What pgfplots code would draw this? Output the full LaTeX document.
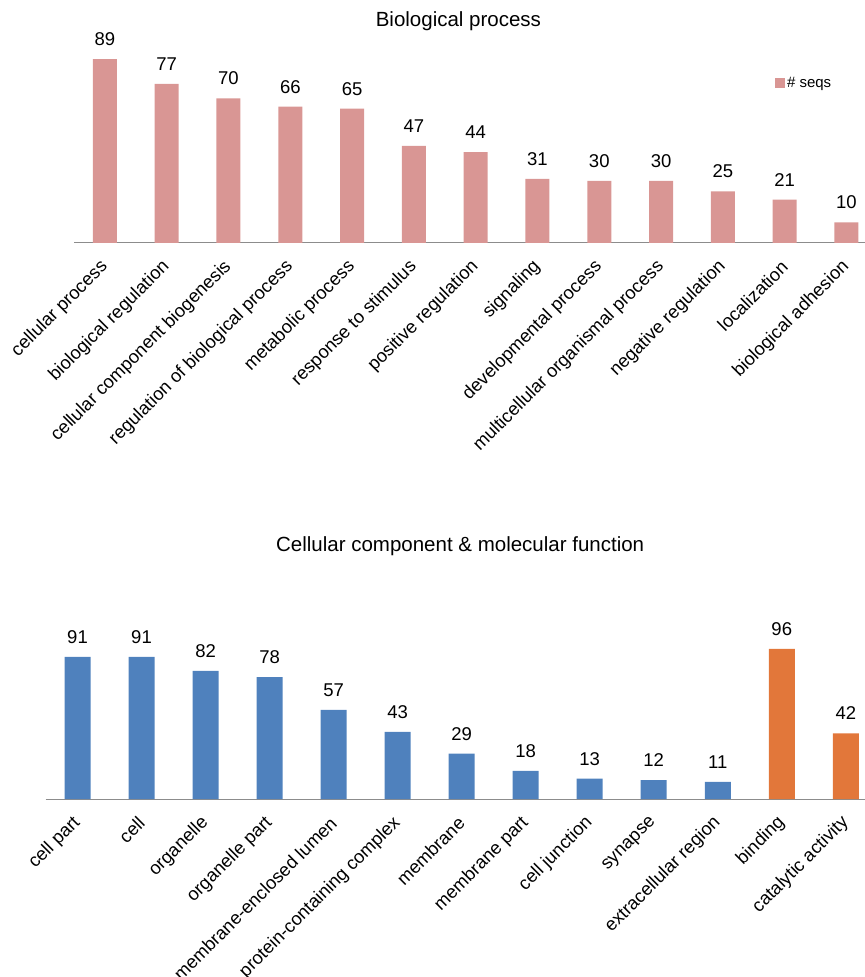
\documentclass[border=0pt]{standalone}
\usepackage{pgfplots}
\pgfplotsset{compat=1.18}
\usepackage{fontspec}
\setmainfont{Liberation Sans}
\definecolor{pinkbar}{HTML}{D99694}
\definecolor{bluebar}{HTML}{4F81BD}
\definecolor{orangebar}{HTML}{E2773A}
\definecolor{axisgray}{HTML}{8C8C8C}
\newcommand{\fs}[1]{\fontsize{#1bp}{#1bp}\selectfont}
\pgfplotsset{
  gochart/.style={
    scale only axis, anchor=south west,
    enlargelimits=false, clip=false,
    /pgf/number format/assume math mode=true,
    xmin=-0.5, xmax=12.3, ymin=0,
    axis y line=none, axis x line=bottom,
    x axis line style={-, draw=axisgray, line width=1bp},
    xtick={0,...,12}, ytick=\empty,
    major tick length=0pt, xtick style={draw=none},
    xticklabel style={rotate=45, anchor=east, inner sep=0pt, font=\fs{18.3}, text=black},
    xticklabel shift=21bp,
    nodes near coords,
    nodes near coords style={font=\fs{18.5}, anchor=base, yshift=13.5bp, inner sep=0pt, text=black},
    ybar, bar shift=0pt,
  }
}
\begin{document}
\begin{tikzpicture}
\useasboundingbox (0,0) rectangle (865bp,977bp);
\begin{axis}[gochart,
  at={(74bp,734bp)}, width=791bp, height=196.4bp, ymax=95,
  bar width=24bp,
  xticklabels={cellular process, biological regulation, cellular component biogenesis, regulation of biological process, metabolic process, response to stimulus, positive regulation, signaling, developmental process, multicellular organismal process, negative regulation, localization, biological adhesion},
  title={Biological process},
  title style={at={(0.486,1)}, anchor=base, yshift=14.6bp, font=\fs{20.5}, inner sep=0pt},
  legend style={at={(0.886,0.815)}, anchor=west, draw=none, fill=none, font=\fs{15}, inner sep=0pt},
  legend image code/.code={\fill[#1] (0bp,-5bp) rectangle (10bp,5bp);},
]
\addplot[fill=pinkbar, draw=none] coordinates {(0,89) (1,77) (2,70) (3,66) (4,65) (5,47) (6,44) (7,31) (8,30) (9,30) (10,25) (11,21) (12,10)};
\addlegendentry{\# seqs}
\end{axis}
\begin{axis}[gochart,
  at={(45.5bp,178bp)}, width=819.5bp, height=156.25bp, ymax=100,
  bar width=26bp,
  xticklabels={cell part, cell, organelle, organelle part, membrane-enclosed lumen, protein-containing complex, membrane, membrane part, cell junction, synapse, extracellular region, binding, catalytic activity},
  title={Cellular component \& molecular function},
  title style={at={(0.506,1)}, anchor=base, yshift=85.7bp, font=\fs{20.5}, inner sep=0pt},
]
\addplot[fill=bluebar, draw=none] coordinates {(0,91) (1,91) (2,82) (3,78) (4,57) (5,43) (6,29) (7,18) (8,13) (9,12) (10,11)};
\addplot[fill=orangebar, draw=none] coordinates {(11,96) (12,42)};
\end{axis}
\end{tikzpicture}
\end{document}
